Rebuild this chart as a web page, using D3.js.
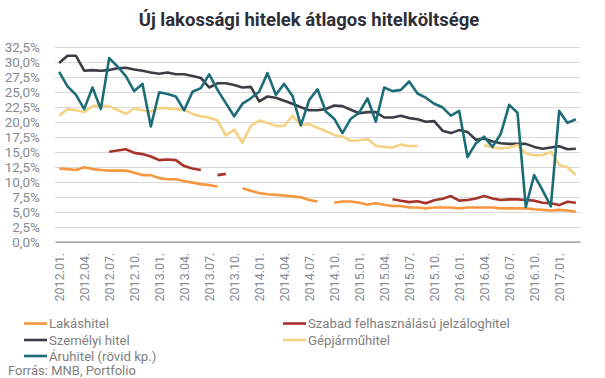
<!DOCTYPE html>
<html>
<head>
<meta charset="utf-8">
<script src="https://cdn.jsdelivr.net/npm/d3@7/dist/d3.min.js"></script>
<style>
  html, body { margin: 0; padding: 0; background: #fff; }
  svg { display: block; }
  text { font-family: Roboto, "Noto Sans", sans-serif; }
</style>
</head>
<body>
<svg id="chart" width="605" height="378"></svg>
<script>
const categories = [
  "2012.01.","2012.02.","2012.03.","2012.04.","2012.05.","2012.06.","2012.07.","2012.08.","2012.09.","2012.10.","2012.11.","2012.12.",
  "2013.01.","2013.02.","2013.03.","2013.04.","2013.05.","2013.06.","2013.07.","2013.08.","2013.09.","2013.10.","2013.11.","2013.12.",
  "2014.01.","2014.02.","2014.03.","2014.04.","2014.05.","2014.06.","2014.07.","2014.08.","2014.09.","2014.10.","2014.11.","2014.12.",
  "2015.01.","2015.02.","2015.03.","2015.04.","2015.05.","2015.06.","2015.07.","2015.08.","2015.09.","2015.10.","2015.11.","2015.12.",
  "2016.01.","2016.02.","2016.03.","2016.04.","2016.05.","2016.06.","2016.07.","2016.08.","2016.09.","2016.10.","2016.11.","2016.12.",
  "2017.01.","2017.02.","2017.03."
];

const lakashitel = [12.2,12.1,11.95,12.4,12.1,11.95,11.85,11.85,11.85,11.5,11.1,11.1,
  10.6,10.4,10.4,10.1,9.85,9.6,9.45,9.2,null,null,8.9,8.5,
  8.1,7.9,7.8,7.7,7.55,7.4,6.95,6.7,null,6.5,6.7,6.7,
  6.5,6.2,6.4,6.15,5.95,5.95,5.7,5.7,5.55,5.7,5.7,5.7,
  5.55,5.7,5.7,5.7,5.7,5.55,5.55,5.55,5.55,5.4,5.3,5.2,
  5.3,5.2,5.0];

const szabad = [null,null,null,null,null,null,15.0,15.2,15.4,14.8,14.6,14.2,
  13.6,13.7,13.6,12.6,12.2,11.95,null,11.1,11.3,null,null,null,
  null,null,null,null,null,null,null,null,null,null,null,null,
  null,null,null,null,7.06,6.84,6.6,6.75,6.4,6.9,7.15,7.6,
  6.84,6.95,7.2,7.6,7.2,6.95,7.06,7.06,6.95,6.84,6.5,6.4,
  6.1,6.67,6.5];

const szemelyi = [29.8,31.0,31.0,28.5,28.6,28.5,28.6,28.9,29.0,28.7,28.5,28.2,
  28.0,28.2,27.9,27.9,27.6,27.3,25.7,26.4,26.4,26.1,25.7,25.8,
  23.4,24.2,24.0,23.5,23.0,22.4,21.9,21.9,22.1,22.7,22.6,22.0,
  21.4,21.6,21.6,20.7,20.7,21.0,20.6,20.4,20.0,20.1,18.5,18.1,
  18.6,18.3,17.0,17.2,16.7,16.4,16.3,16.3,16.3,15.8,15.5,15.7,
  15.9,15.4,15.5];

const gepjarmu = [21.0,22.1,21.9,21.6,22.6,22.7,22.6,21.95,21.3,22.2,21.9,21.7,
  22.3,22.2,22.1,22.0,21.3,20.9,20.7,20.2,17.7,18.7,16.5,19.3,
  20.2,19.8,19.3,19.3,21.0,19.4,19.6,19.0,18.4,17.8,17.5,16.8,
  16.9,17.1,16.0,15.8,15.7,16.2,15.9,16.0,null,null,null,null,
  null,null,null,16.1,15.7,15.55,15.7,16.1,14.7,14.4,14.4,15.0,
  12.8,12.4,11.1];

const aruhitel = [28.3,25.9,24.5,22.1,25.7,22.1,30.6,29.2,27.6,25.1,26.3,19.2,
  24.9,24.6,24.2,21.9,25.0,25.6,27.9,25.3,23.1,20.9,23.0,23.9,
  25.0,28.1,24.5,26.3,24.3,19.4,23.6,25.4,21.7,20.5,18.1,20.5,
  21.5,23.9,20.0,25.7,25.1,25.3,26.7,24.7,24.0,23.0,22.4,21.0,
  21.8,14.1,16.4,17.5,15.8,18.0,22.8,21.5,5.8,11.1,8.6,5.9,
  21.8,19.8,20.4];

const yTicks = [0,2.5,5,7.5,10,12.5,15,17.5,20,22.5,25,27.5,30,32.5];
const xTickLabels = categories.filter((c, i) => i % 3 === 0);

const seriesNames = ["Lakáshitel","Szabad felhasználású jelzáloghitel","Személyi hitel","Gépjárműhitel","Áruhitel (rövid kp.)"];
const seriesColors = ["#f7963f","#a8332a","#3b3e47","#f5d283","#1d6d78"];
const seriesData = [lakashitel, szabad, szemelyi, gepjarmu, aruhitel];

const svg = d3.select("#chart");
const plotLeft = 55, plotRight = 580, plotTop = 46.7, plotBottom = 241.7;

const x = d3.scaleBand().domain(categories).range([plotLeft, plotRight]);
const y = d3.scaleLinear().domain([0, 32.5]).range([plotBottom, plotTop]);

// title
svg.append("text")
  .attr("x", 309).attr("y", 26)
  .attr("text-anchor", "middle")
  .attr("font-size", 18.5).attr("font-weight", "bold")
  .attr("fill", "#2e2e38")
  .text("Új lakossági hitelek átlagos hitelköltsége");

// grid
svg.append("g").selectAll("line").data(yTicks.filter(d => d > 0)).join("line")
  .attr("x1", plotLeft).attr("x2", plotRight)
  .attr("y1", d => Math.round(y(d)) + 0.5).attr("y2", d => Math.round(y(d)) + 0.5)
  .attr("stroke", "#d9d9d9").attr("stroke-width", 1);

// y axis
const yAxis = d3.axisLeft(y).tickValues(yTicks).tickSize(0).tickPadding(0)
  .tickFormat(d => d3.format(".1f")(d).replace(".", ",") + "%");
const gy = svg.append("g").attr("transform", "translate(40,0)").call(yAxis);
gy.select(".domain").remove();
gy.selectAll("text").attr("font-size", 13.5).attr("fill", "#858a93").attr("font-family", "Roboto, sans-serif");

// x axis
const xAxis = d3.axisBottom(x).tickValues(xTickLabels).tickSize(0).tickPadding(0);
const gx = svg.append("g").attr("transform", `translate(0,${plotBottom})`).call(xAxis);
gx.select(".domain").attr("stroke", "#8c8c8c").attr("stroke-width", 1.2);
gx.selectAll("text")
  .attr("font-size", 12.5).attr("fill", "#858a93").attr("font-family", "Roboto, sans-serif")
  .attr("transform", "rotate(-90)")
  .attr("text-anchor", "end")
  .attr("x", -11).attr("y", 0).attr("dy", "0.35em");

// lines
const line = d3.line()
  .defined(d => d.v != null)
  .x(d => x(d.c) + x.bandwidth() / 2)
  .y(d => y(d.v));

const gLines = svg.append("g");
seriesData.forEach((arr, k) => {
  const pts = categories.map((c, i) => ({ c, v: arr[i] }));
  gLines.append("path")
    .datum(pts)
    .attr("fill", "none")
    .attr("stroke", seriesColors[k])
    .attr("stroke-width", 2.6)
    .attr("stroke-linejoin", "round")
    .attr("d", line);
});

// legend
const legendPos = [
  { lx: 24, ly: 323.5 },
  { lx: 283, ly: 323.5 },
  { lx: 24, ly: 340 },
  { lx: 283, ly: 340 },
  { lx: 24, ly: 356 }
];
const lg = svg.append("g");
seriesNames.forEach((name, k) => {
  const p = legendPos[k];
  lg.append("line")
    .attr("x1", p.lx).attr("x2", p.lx + 23)
    .attr("y1", p.ly).attr("y2", p.ly)
    .attr("stroke", seriesColors[k]).attr("stroke-width", 2.6);
  lg.append("text")
    .attr("x", p.lx + 25).attr("y", p.ly).attr("dy", "0.35em")
    .attr("font-size", 13.2).attr("fill", "#808080")
    .text(name);
});

svg.append("text")
  .attr("x", 8).attr("y", 374.5)
  .attr("font-size", 13).attr("fill", "#808080")
  .text("Forrás: MNB, Portfolio");
</script>
</body>
</html>
